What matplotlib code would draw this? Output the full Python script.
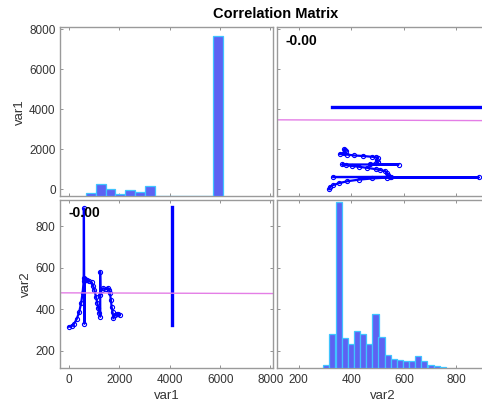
import numpy as np
import matplotlib
matplotlib.use('Agg')
import matplotlib.pyplot as plt

plt.rcParams['font.family'] = ['Liberation Sans', 'DejaVu Sans']

# trajectory part of the data (var1, var2)
path_v1 = [0, 100, 200, 300, 400, 480, 540, 580,
           590, 600, 610, 620,
           700, 800, 900, 960, 1000, 1070, 1120, 1160, 1200, 1240,
           1235, 1245, 1290,
           1360, 1450, 1560, 1600, 1625, 1663, 1690, 1730, 1760,
           1822, 1900, 1953, 2010]
path_v2 = [316, 318, 330, 352, 385, 430, 480, 535,
           886, 550, 330, 548,
           540, 535, 530, 510, 495, 460, 430, 404, 380, 364,
           580, 470, 493,
           501, 497, 501, 495, 477, 444, 412, 385, 356,
           372, 378, 377, 373]

# the long run of points sitting at var1 = 4100
run_v1 = [4100, 4100]
run_v2 = [325, 890]

# histogram of var1 (bin centres as they appear on the var1 axis)
hist1_centers = [869, 1258, 1647, 2036, 2425, 2814, 3203,
                 3592, 3981, 4370, 4759, 5148, 5537, 5926]
hist1_counts = [130, 575, 335, 80, 275, 180, 465, 0, 0, 0, 0, 0, 0, 7680]
hist1_width = 389

# histogram of var2
hist2_centers = [305, 328, 352, 375, 398, 422, 445, 468, 492, 515,
                 538, 562, 585, 608, 632, 655, 678, 702, 725, 748]
hist2_counts = [58, 660, 3190, 572, 468, 712, 649, 468, 1034, 597,
                256, 179, 160, 129, 129, 231, 129, 52, 33, 13]
hist2_width = 23.3

# least squares lines and correlation
corr = -0.0
fit12 = (-340, 479, -0.0004)    # var2 on var1: point and slope
fit21 = (117, 3475, -0.05)      # var1 on var2

var1_lim = (-340, 8100)
var2_lim = (117, 926)
var1_ticks = [0, 2000, 4000, 6000, 8000]
var2_ticks = [200, 400, 600, 800]

bar_face = '#5d62f2'
bar_edge = '#40c4ff'
pt_col = '#0000ff'
fit_col = '#e47ee6'
spine_col = '#9a9a9a'
txt_col = '#333333'

fig = plt.figure(figsize=(4.82, 4.09), dpi=100)
ax_tl = fig.add_axes([0.1255, 0.5208, 0.4409, 0.412])
ax_tr = fig.add_axes([0.5747, 0.5208, 0.4409, 0.412])
ax_bl = fig.add_axes([0.1255, 0.1002, 0.4409, 0.4108])
ax_br = fig.add_axes([0.5747, 0.1002, 0.4409, 0.4108])

for ax in [ax_tl, ax_tr, ax_bl, ax_br]:
    for s in ax.spines.values():
        s.set_color(spine_col)
        s.set_linewidth(1.0)
    ax.tick_params(direction='in', length=2.5, width=0.6, color='#808080',
                   labelcolor=txt_col, labelsize=8.5, top=True, right=True)
    ax.tick_params(axis='x', pad=4.5)
    ax.tick_params(axis='y', pad=3.5)

# top left: histogram of var1
ax_tl.set_xlim(var1_lim)
ax_tl.set_ylim(var1_lim)
ax_tl.set_xticks(var1_ticks)
ax_tl.set_yticks(var1_ticks)
ax_tl.set_xticklabels([])
ax_tl.set_ylabel('var1', fontsize=9.5, color=txt_col, labelpad=2.5)
h1 = ax_tl.twinx()
h1.bar(hist1_centers, hist1_counts, width=hist1_width, color=bar_face,
       edgecolor=bar_edge, linewidth=0.9)
h1.set_ylim(0, 8100)
h1.set_axis_off()

# top right: var1 against var2
ax_tr.plot(path_v2, path_v1, color=pt_col, lw=1.6, marker='o', ms=3,
           mfc='none', mew=0.8)
ax_tr.plot(run_v2, run_v1, color=pt_col, lw=2.4)
ax_tr.axline(fit21[:2], slope=fit21[2], color=fit_col, lw=1)
ax_tr.set_xlim(var2_lim)
ax_tr.set_ylim(var1_lim)
ax_tr.set_xticks(var2_ticks)
ax_tr.set_yticks(var1_ticks)
ax_tr.set_xticklabels([])
ax_tr.set_yticklabels([])
ax_tr.text(0.038, 0.92, f'{corr:.2f}', transform=ax_tr.transAxes,
           fontsize=10, fontweight='bold', ha='left', va='center')

# bottom left: var2 against var1
ax_bl.plot(path_v1, path_v2, color=pt_col, lw=1.6, marker='o', ms=3,
           mfc='none', mew=0.8)
ax_bl.plot(run_v1, run_v2, color=pt_col, lw=2.4)
ax_bl.axline(fit12[:2], slope=fit12[2], color=fit_col, lw=1)
ax_bl.set_xlim(var1_lim)
ax_bl.set_ylim(var2_lim)
ax_bl.set_xticks(var1_ticks)
ax_bl.set_yticks(var2_ticks)
ax_bl.set_xlabel('var1', fontsize=9.5, color=txt_col, labelpad=3)
ax_bl.set_ylabel('var2', fontsize=9.5, color=txt_col, labelpad=2.5)
ax_bl.text(0.036, 0.92, f'{corr:.2f}', transform=ax_bl.transAxes,
           fontsize=10, fontweight='bold', ha='left', va='center')

# bottom right: histogram of var2
ax_br.set_xlim(var2_lim)
ax_br.set_ylim(var2_lim)
ax_br.set_xticks(var2_ticks)
ax_br.set_yticks(var2_ticks)
ax_br.set_yticklabels([])
ax_br.set_xlabel('var2', fontsize=9.5, color=txt_col, labelpad=3)
h2 = ax_br.twinx()
h2.bar(hist2_centers, hist2_counts, width=hist2_width, color=bar_face,
       edgecolor=bar_edge, linewidth=0.9)
h2.set_ylim(0, 3234)
h2.set_axis_off()

fig.text(275.5 / 482, 1 - 14.5 / 409, 'Correlation Matrix', ha='center',
         va='center', fontsize=10.5, fontweight='bold')

plt.savefig('out.png', dpi=100)
